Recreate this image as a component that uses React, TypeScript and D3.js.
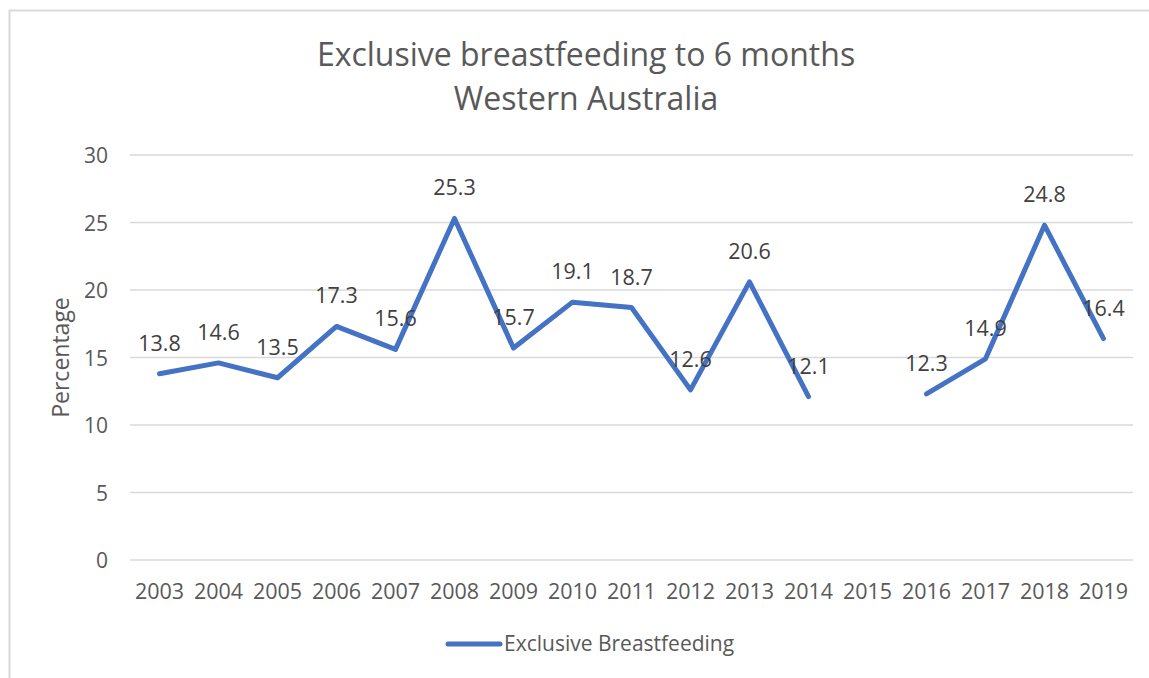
import React, { useRef, useEffect } from 'react';
import * as d3 from 'd3';

const years = ['2003', '2004', '2005', '2006', '2007', '2008', '2009', '2010', '2011', '2012', '2013', '2014', '2015', '2016', '2017', '2018', '2019'];
const breastfeeding: (number | null)[] = [13.8, 14.6, 13.5, 17.3, 15.6, 25.3, 15.7, 19.1, 18.7, 12.6, 20.6, 12.1, null, 12.3, 14.9, 24.8, 16.4];
const yTicks = [0, 5, 10, 15, 20, 25, 30];
const titleLines = ['Exclusive breastfeeding to 6 months', 'Western Australia'];
const seriesName = 'Exclusive Breastfeeding';

const App = () => {
  const ref = useRef<SVGSVGElement>(null);

  useEffect(() => {
    const svg = d3.select(ref.current);
    svg.selectAll('*').remove();

    const width = 1149;
    const height = 678;
    const left = 130, right = 1133, top = 155, bottom = 560;
    const textColor = '#595959';
    const gridColor = '#d9d9d9';
    const blue = '#4472c4';
    const font = "'Open Sans', sans-serif";

    // chart border
    svg.append('rect')
      .attr('x', 9.5).attr('y', 10.5)
      .attr('width', width + 10).attr('height', height + 10)
      .attr('fill', 'white')
      .attr('stroke', gridColor)
      .attr('stroke-width', 2);

    const x = d3.scaleBand().domain(years).range([left, right]);
    const y = d3.scaleLinear().domain([0, 30]).range([bottom, top]);

    // title
    svg.append('g').selectAll('text')
      .data(titleLines)
      .enter()
      .append('text')
      .attr('x', 586)
      .attr('y', (d, i) => 66 + i * 44)
      .attr('text-anchor', 'middle')
      .attr('font-family', font)
      .attr('font-size', 32)
      .attr('fill', textColor)
      .text(d => d);

    // gridlines
    svg.append('g').selectAll('line')
      .data(yTicks)
      .enter()
      .append('line')
      .attr('x1', left).attr('x2', right)
      .attr('y1', d => y(d)).attr('y2', d => y(d))
      .attr('stroke', gridColor)
      .attr('stroke-width', 1.5);

    // y tick labels
    svg.append('g').selectAll('text')
      .data(yTicks)
      .enter()
      .append('text')
      .attr('x', 108)
      .attr('y', d => y(d) + 8)
      .attr('text-anchor', 'end')
      .attr('font-family', font)
      .attr('font-size', 21)
      .attr('fill', textColor)
      .text(d => d);

    // x tick labels
    svg.append('g').selectAll('text')
      .data(years)
      .enter()
      .append('text')
      .attr('x', d => (x(d) as number) + x.bandwidth() / 2)
      .attr('y', 599)
      .attr('text-anchor', 'middle')
      .attr('font-family', font)
      .attr('font-size', 21.5)
      .attr('fill', textColor)
      .text(d => d);

    // y axis title
    svg.append('text')
      .attr('transform', `translate(69,${(top + bottom) / 2}) rotate(-90)`)
      .attr('text-anchor', 'middle')
      .attr('font-family', font)
      .attr('font-size', 23)
      .attr('fill', textColor)
      .text('Percentage');

    const points = years.map((yr, i) => ({ yr, v: breastfeeding[i] }));

    const line = d3.line<{ yr: string; v: number | null }>()
      .defined(d => d.v !== null)
      .x(d => (x(d.yr) as number) + x.bandwidth() / 2)
      .y(d => y(d.v as number));

    svg.append('path')
      .datum(points)
      .attr('d', line)
      .attr('fill', 'none')
      .attr('stroke', blue)
      .attr('stroke-width', 5)
      .attr('stroke-linejoin', 'round')
      .attr('stroke-linecap', 'round');

    // data labels
    svg.append('g').selectAll('text')
      .data(points.filter(d => d.v !== null))
      .enter()
      .append('text')
      .attr('x', d => (x(d.yr) as number) + x.bandwidth() / 2)
      .attr('y', d => y(d.v as number) - 23)
      .attr('text-anchor', 'middle')
      .attr('font-family', font)
      .attr('font-size', 21.5)
      .attr('fill', '#404040')
      .text(d => (d.v as number).toFixed(1));

    // legend
    const lg = svg.append('g');
    lg.append('line')
      .attr('x1', 448).attr('x2', 500)
      .attr('y1', 644).attr('y2', 644)
      .attr('stroke', blue)
      .attr('stroke-width', 5)
      .attr('stroke-linecap', 'round');
    lg.append('text')
      .attr('x', 504)
      .attr('y', 651)
      .attr('font-family', font)
      .attr('font-size', 21)
      .attr('fill', textColor)
      .text(seriesName);
  }, []);

  return (
    <svg
      ref={ref}
      width={1149}
      height={678}
      style={{ position: 'absolute', left: 0, top: 0, background: 'white' }}
    ></svg>
  );
};

export default App;
